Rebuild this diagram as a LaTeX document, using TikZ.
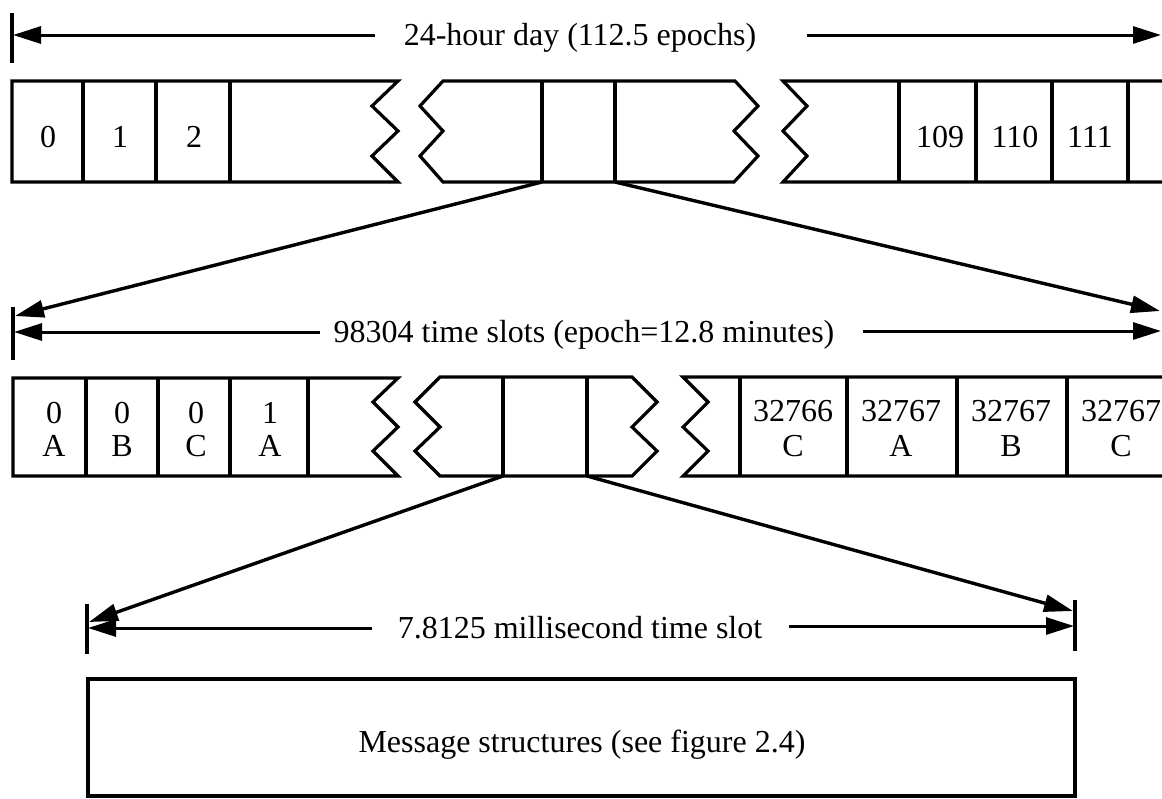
\documentclass[tikz,border=0pt]{standalone}
\usepackage{fontspec}
\setmainfont{Liberation Serif}
\usetikzlibrary{arrows.meta}
\begin{document}
\begin{tikzpicture}[x=1pt,y=-1pt,
  outline/.style={line width=3.2pt, line join=miter},
  dimline/.style={line width=3pt, -{Triangle[length=28pt,width=17pt]}},
  feed/.style={line width=3.4pt, -{Triangle[length=29pt,width=17pt]}},
  tickline/.style={line width=3.2pt},
  lbl/.style={font=\fontsize{32}{38}\selectfont, inner sep=0pt, anchor=base},
]
\useasboundingbox (0,0) rectangle (1162,798);

% ---------- Row 1: day ----------
\coordinate (t1a) at (12,13); \coordinate (t1b) at (12,63);
\draw[tickline] (t1a) -- (t1b);
\coordinate (d1ls) at (375,35); \coordinate (d1le) at (13,35);
\coordinate (d1rs) at (807,35); \coordinate (d1re) at (1161,35);
\draw[dimline] (d1ls) -- (d1le);
\draw[dimline] (d1rs) -- (d1re);
\node[lbl] (d1) at (580,45) {24-hour day (112.5 epochs)};

\draw[outline] (12,81) -- (398,81) -- (372,106) -- (398,131) -- (372,156) -- (398,182) -- (12,182) -- cycle;
\foreach \x in {83,156,230} \draw[outline] (\x,81) -- (\x,182);
\node[lbl] (e0) at (48,147) {0};
\node[lbl] (e1) at (120,147) {1};
\node[lbl] (e2) at (194,147) {2};

\draw[outline] (443,81) -- (735,81) -- (758,106) -- (734,131) -- (758,156) -- (734,182) -- (443,182) -- (420,156) -- (443,131) -- (420,106) -- cycle;
\draw[outline] (542,81) -- (542,182);
\draw[outline] (615,81) -- (615,182);
\coordinate (b1) at (542,182); \coordinate (b2) at (615,182);

\draw[outline] (1162,81) -- (783,81) -- (807,106) -- (783,131) -- (807,156) -- (783,182) -- (1162,182);
\foreach \x in {899,976,1052,1128} \draw[outline] (\x,81) -- (\x,182);
\node[lbl] (e109) at (940,147) {109};
\node[lbl] (e110) at (1015,147) {110};
\node[lbl] (e111) at (1090,147) {111};

% ---------- Row 2: epoch ----------
\coordinate (t2a) at (13,307); \coordinate (t2b) at (13,360);
\draw[tickline] (t2a) -- (t2b);
\coordinate (c1) at (15,316); \coordinate (c2) at (1160,311);
\draw[feed] (b1) -- (c1);
\draw[feed] (b2) -- (c2);
\coordinate (d2ls) at (320,332); \coordinate (d2le) at (14,332);
\coordinate (d2rs) at (863,331); \coordinate (d2re) at (1161,331);
\draw[dimline] (d2ls) -- (d2le);
\draw[dimline] (d2rs) -- (d2re);
\node[lbl] (d2) at (584,342) {98304 time slots (epoch=12.8 minutes)};

\draw[outline] (13,378) -- (398,378) -- (373,402) -- (398,427) -- (373,451) -- (398,476) -- (13,476) -- cycle;
\foreach \x in {86,158,230,308} \draw[outline] (\x,378) -- (\x,476);
\foreach \x/\n/\l [count=\i] in {54/0/A,122/0/B,196/0/C,270/1/A}{
  \node[lbl] (s\i n) at (\x,423) {\n};
  \node[lbl] (s\i l) at (\x,456) {\l};
}

\draw[outline] (440,377) -- (632,377) -- (657,402) -- (632,427) -- (657,451) -- (632,476) -- (440,476) -- (415,451) -- (440,427) -- (415,402) -- cycle;
\draw[outline] (503,377) -- (503,476);
\draw[outline] (587,377) -- (587,476);
\coordinate (b3) at (503,476); \coordinate (b4) at (587,476);

\draw[outline] (1162,377) -- (683,377) -- (708,402) -- (683,427) -- (708,451) -- (683,476) -- (1162,476);
\foreach \x in {740,847,957,1067} \draw[outline] (\x,377) -- (\x,476);
\foreach \x/\n/\l [count=\i] in {793/32766/C,901/32767/A,1011/32767/B,1121/32767/C}{
  \node[lbl] (r\i n) at (\x,421) {\n};
  \node[lbl] (r\i l) at (\x,456) {\l};
}

% ---------- Row 3: time slot ----------
\coordinate (t3a) at (87,604); \coordinate (t3b) at (87,654);
\draw[tickline] (t3a) -- (t3b);
\coordinate (t4a) at (1075,600); \coordinate (t4b) at (1075,651);
\draw[tickline] (t4a) -- (t4b);
\coordinate (c3) at (89,622); \coordinate (c4) at (1073,611);
\draw[feed] (b3) -- (c3);
\draw[feed] (b4) -- (c4);
\coordinate (d3ls) at (372,628); \coordinate (d3le) at (88,628);
\coordinate (d3rs) at (789,626); \coordinate (d3re) at (1074,626);
\draw[dimline] (d3ls) -- (d3le);
\draw[dimline] (d3rs) -- (d3re);
\node[lbl] (d3) at (580,638) {7.8125 millisecond time slot};

\draw[outline] (88,679) rectangle (1075,796);
\node[lbl] (msg) at (582,752) {Message structures (see figure 2.4)};
\end{tikzpicture}
\end{document}
